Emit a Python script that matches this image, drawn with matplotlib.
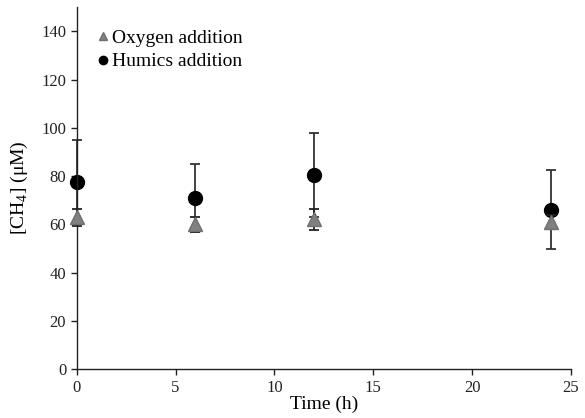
import matplotlib
matplotlib.use("Agg")
import matplotlib.pyplot as plt

# Sampling times (h)
time_h = [0, 6, 12, 24]

# Methane concentration (µM) with standard deviations
oxygen_mean = [63, 60, 62, 61]
oxygen_sd = [3.5, 3.0, 4.3, 3.0]
humics_mean = [77.5, 71, 80.5, 66]
humics_sd = [17.3, 14, 17.4, 16.3]

plt.rcParams["font.family"] = ["Liberation Serif", "DejaVu Serif"]
plt.rcParams["mathtext.fontset"] = "custom"
plt.rcParams["mathtext.rm"] = "Liberation Serif"

fig = plt.figure(figsize=(5.85, 4.18), dpi=100)
ax = fig.add_axes([0.131, 0.117, 0.845, 0.866])

h_hum = ax.errorbar(time_h, humics_mean, yerr=humics_sd, fmt="o", color="black",
                    ecolor="#333333", elinewidth=1.3, capsize=3.5, capthick=1.3,
                    markersize=10, zorder=2, label="Humics addition")
h_oxy = ax.errorbar(time_h, oxygen_mean, yerr=oxygen_sd, fmt="^", color="#808080",
                    markeredgecolor="#707070", ecolor="#222222", elinewidth=1.3,
                    capsize=3.5, capthick=1.3, markersize=10, zorder=3,
                    label="Oxygen addition")

# Let markers and error bars at t = 0 spill over the axis line
for container in (h_hum, h_oxy):
    for art in container.lines[1] + container.lines[2]:
        art.set_clip_on(False)
    container.lines[0].set_clip_on(False)

ax.set_xlim(0, 25)
ax.set_ylim(0, 150)
ax.set_xticks([0, 5, 10, 15, 20, 25])
ax.set_yticks(range(0, 141, 20))
ax.spines["top"].set_visible(False)
ax.spines["right"].set_visible(False)
for s in ("left", "bottom"):
    ax.spines[s].set_color("#222222")
    ax.spines[s].set_linewidth(1.0)
ax.tick_params(direction="out", length=4, width=1, labelsize=12, colors="#222222")

ax.set_xlabel("Time (h)", fontsize=14, labelpad=0)
ax.set_ylabel("[CH$_4$] (μM)", fontsize=14, labelpad=8)

leg = ax.legend([h_oxy[0], h_hum[0]], ["Oxygen addition", "Humics addition"],
                loc="upper left", bbox_to_anchor=(0.025, 0.96), frameon=False,
                fontsize=14, markerscale=0.6, handlelength=0.6, handletextpad=0.2,
                labelspacing=0.3, borderaxespad=0)

fig.savefig("out.png", dpi=100)
